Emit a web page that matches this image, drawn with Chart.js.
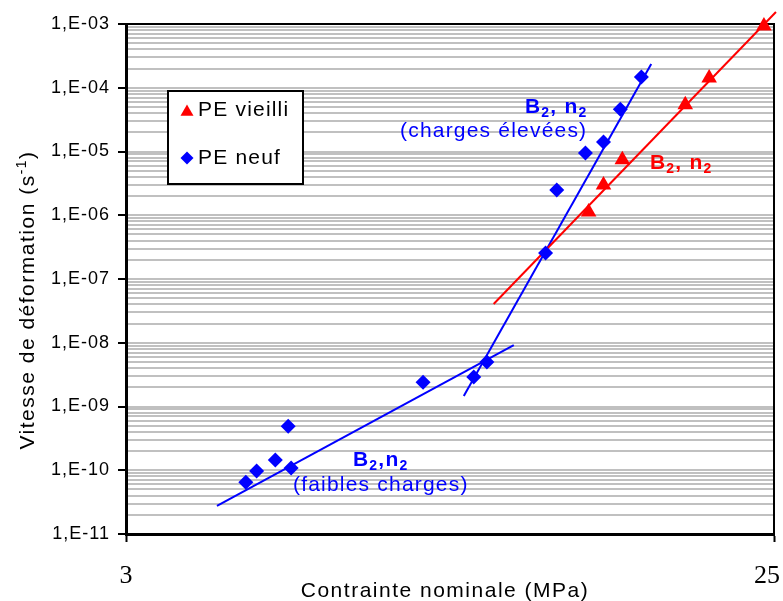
<!DOCTYPE html>
<html>
<head>
<meta charset="utf-8">
<script src="https://cdn.jsdelivr.net/npm/chart.js@4.4.1/dist/chart.umd.min.js"></script>
<style>
  html, body { margin: 0; padding: 0; background: #fff; }
  #wrap { width: 783px; height: 601px; position: relative; }
</style>
</head>
<body>
<div id="wrap"><canvas id="chart"></canvas></div>
<script>
// PE neuf (diamonds)
const neufX = [4.44, 4.60, 4.89, 5.10, 5.15, 7.93, 9.36, 9.77, 11.84, 12.28, 13.49, 14.31, 15.12, 16.20];
const neufY = [6.5e-11, 9.7e-11, 1.45e-10, 4.9e-10, 1.08e-10, 2.4e-9, 2.9e-9, 5.0e-9, 2.56e-7, 2.5e-6, 9.5e-6, 1.41e-5, 4.6e-5, 1.47e-4];

// PE vieilli (triangles)
const vieilliX = [13.63, 14.31, 15.22, 18.70, 20.22, 24.19];
const vieilliY = [1.12e-6, 2.98e-6, 7.4e-6, 5.4e-5, 1.42e-4, 9.3e-4];

// fitted lines, end points
const faiblesX = [4.04, 10.67];
const faiblesY = [2.75e-11, 9.2e-9];
const eleveesX = [9.06, 16.73];
const eleveesY = [1.46e-9, 2.36e-4];
const vieilliFitX = [9.99, 25.16];
const vieilliFitY = [4.05e-8, 1.54e-3];

// axes
const xTicks = [3, 25];
const yDecades = [1e-11, 1e-10, 1e-9, 1e-8, 1e-7, 1e-6, 1e-5, 1e-4, 1e-3];
const yTickLabels = ['1,E-11', '1,E-10', '1,E-09', '1,E-08', '1,E-07', '1,E-06', '1,E-05', '1,E-04', '1,E-03'];
const minorMantissas = [2, 3, 4, 5, 6, 7, 8, 9];

const SANS = "'Liberation Sans', Arial, sans-serif";
const SERIF = "'Liberation Serif', 'Times New Roman', serif";
const BLUE = '#0000ff';
const RED = '#ff0000';

function toPoints(xs, ys) {
  return xs.map((x, i) => ({ x: x, y: ys[i] }));
}

// grid values: every decade plus 2..9 in between
const yGridValues = [];
yDecades.forEach((d, i) => {
  yGridValues.push(d);
  if (i < yDecades.length - 1) minorMantissas.forEach(m => yGridValues.push(m * d));
});

function decadeLabel(v) {
  const i = yDecades.findIndex(d => Math.abs(v / d - 1) < 1e-6);
  return i < 0 ? '' : yTickLabels[i];
}

function drawRuns(ctx, x, y, runs, color) {
  ctx.fillStyle = color;
  ctx.textAlign = 'left';
  ctx.textBaseline = 'alphabetic';
  runs.forEach(r => {
    ctx.font = r.font;
    ctx.fillText(r.t, x, y + (r.dy || 0));
    x += ctx.measureText(r.t).width;
  });
}

function runsWidth(ctx, runs) {
  let w = 0;
  runs.forEach(r => { ctx.font = r.font; w += ctx.measureText(r.t).width; });
  return w;
}

function bn(sep) {
  return [
    { t: 'B', font: 'bold 21px ' + SANS },
    { t: '2', font: 'bold 14px ' + SANS, dy: 4 },
    { t: sep + 'n', font: 'bold 21px ' + SANS },
    { t: '2', font: 'bold 14px ' + SANS, dy: 4 }
  ];
}

function triangle(ctx, x, y, r) {
  ctx.beginPath();
  ctx.moveTo(x, y - r);
  ctx.lineTo(x + r * 0.866, y + r / 2);
  ctx.lineTo(x - r * 0.866, y + r / 2);
  ctx.closePath();
  ctx.fill();
}

function diamond(ctx, x, y, r) {
  ctx.beginPath();
  ctx.moveTo(x, y - r);
  ctx.lineTo(x + r, y);
  ctx.lineTo(x, y + r);
  ctx.lineTo(x - r, y);
  ctx.closePath();
  ctx.fill();
}

const frame = {
  id: 'frame',
  beforeDraw(chart) {
    chart.ctx.letterSpacing = '1px';
  },
  beforeDatasetsDraw(chart) {
    const { ctx, chartArea: a } = chart;
    ctx.save();
    ctx.strokeStyle = '#000';
    ctx.lineWidth = 2;
    ctx.beginPath();
    ctx.moveTo(a.left, a.top);
    ctx.lineTo(a.right, a.top);
    ctx.lineTo(a.right, a.bottom);
    ctx.stroke();
    ctx.restore();
  },
  afterDatasetsDraw(chart) {
    const { ctx, scales } = chart;
    ctx.save();
    ctx.letterSpacing = '1.2px';

    // legend
    ctx.fillStyle = '#fff';
    ctx.fillRect(168, 91, 135, 93);
    ctx.strokeStyle = '#000';
    ctx.lineWidth = 2;
    ctx.strokeRect(168, 91, 135, 93);
    ctx.fillStyle = RED;
    triangle(ctx, 187, 112, 7.5);
    ctx.fillStyle = BLUE;
    diamond(ctx, 187, 158, 6.5);
    drawRuns(ctx, 198, 116, [{ t: 'PE vieilli', font: '21px ' + SANS }], '#000');
    drawRuns(ctx, 198, 164, [{ t: 'PE neuf', font: '21px ' + SANS }], '#000');

    // annotations
    drawRuns(ctx, 525, 113, bn(', '), BLUE);
    drawRuns(ctx, 400, 137, [{ t: '(charges élevées)', font: '21px ' + SANS }], BLUE);
    drawRuns(ctx, 650, 169, bn(', '), RED);
    drawRuns(ctx, 353, 466, bn(','), BLUE);
    drawRuns(ctx, 293, 491, [{ t: '(faibles charges)', font: '21px ' + SANS }], BLUE);

    // x tick labels
    ctx.letterSpacing = '0px';
    ctx.font = '26px ' + SERIF;
    ctx.fillStyle = '#000';
    ctx.textAlign = 'center';
    xTicks.forEach(v => {
      const label = String(v);
      const w = ctx.measureText(label).width;
      const px = Math.min(scales.x.getPixelForValue(v), 780 - w / 2);
      ctx.fillText(label, px, 583);
    });

    // axis titles
    ctx.letterSpacing = '1.5px';
    const xt = [{ t: 'Contrainte nominale (MPa)', font: '21px ' + SANS }];
    drawRuns(ctx, 445 - runsWidth(ctx, xt) / 2, 597, xt, '#000');

    const yt = [
      { t: 'Vitesse de déformation (s', font: '21px ' + SANS },
      { t: '-1', font: '14px ' + SANS, dy: -8 },
      { t: ')', font: '21px ' + SANS }
    ];
    ctx.translate(34, 300);
    ctx.rotate(-Math.PI / 2);
    drawRuns(ctx, -runsWidth(ctx, yt) / 2, 0, yt, '#000');
    ctx.restore();
  }
};

new Chart(document.getElementById('chart'), {
  type: 'scatter',
  data: {
    datasets: [
      {
        label: 'PE vieilli',
        data: toPoints(vieilliX, vieilliY),
        pointStyle: 'triangle',
        pointRadius: 9,
        pointHoverRadius: 9,
        backgroundColor: RED,
        borderColor: RED,
        borderWidth: 0,
        clip: false
      },
      {
        label: 'PE neuf',
        data: toPoints(neufX, neufY),
        pointStyle: 'rectRot',
        pointRadius: 7.5,
        pointHoverRadius: 7.5,
        backgroundColor: BLUE,
        borderColor: BLUE,
        borderWidth: 0
      },
      {
        label: 'fit vieilli',
        data: toPoints(vieilliFitX, vieilliFitY),
        showLine: true,
        pointRadius: 0,
        borderColor: RED,
        borderWidth: 2,
        clip: false
      },
      {
        label: 'fit faibles charges',
        data: toPoints(faiblesX, faiblesY),
        showLine: true,
        pointRadius: 0,
        borderColor: BLUE,
        borderWidth: 2
      },
      {
        label: 'fit charges élevées',
        data: toPoints(eleveesX, eleveesY),
        showLine: true,
        pointRadius: 0,
        borderColor: BLUE,
        borderWidth: 2
      }
    ]
  },
  options: {
    responsive: true,
    maintainAspectRatio: false,
    animation: false,
    layout: { padding: { left: 0, top: 24, right: 7, bottom: 0 } },
    plugins: {
      legend: { display: false },
      tooltip: { enabled: false }
    },
    scales: {
      x: {
        type: 'logarithmic',
        min: 3,
        max: 25,
        afterBuildTicks: s => { s.ticks = xTicks.map(v => ({ value: v })); },
        afterFit: s => { s.height = 67; },
        ticks: { display: false },
        grid: {
          drawOnChartArea: false,
          tickLength: 8,
          tickColor: '#000',
          tickWidth: 2
        },
        border: { display: true, color: '#000', width: 3 }
      },
      y: {
        type: 'logarithmic',
        min: 1e-11,
        max: 1e-3,
        afterBuildTicks: s => { s.ticks = yGridValues.map(v => ({ value: v })); },
        afterFit: s => { s.width = 126; },
        ticks: {
          autoSkip: false,
          padding: 8,
          color: '#000',
          font: { family: SANS, size: 18 },
          callback: v => decadeLabel(v)
        },
        grid: {
          color: '#c0c0c0',
          lineWidth: 2,
          tickLength: 8,
          tickWidth: 2,
          tickColor: c => decadeLabel(c.tick.value) ? '#000' : 'rgba(0,0,0,0)'
        },
        border: { display: true, color: '#000', width: 3 }
      }
    }
  },
  plugins: [frame]
});
</script>
</body>
</html>
